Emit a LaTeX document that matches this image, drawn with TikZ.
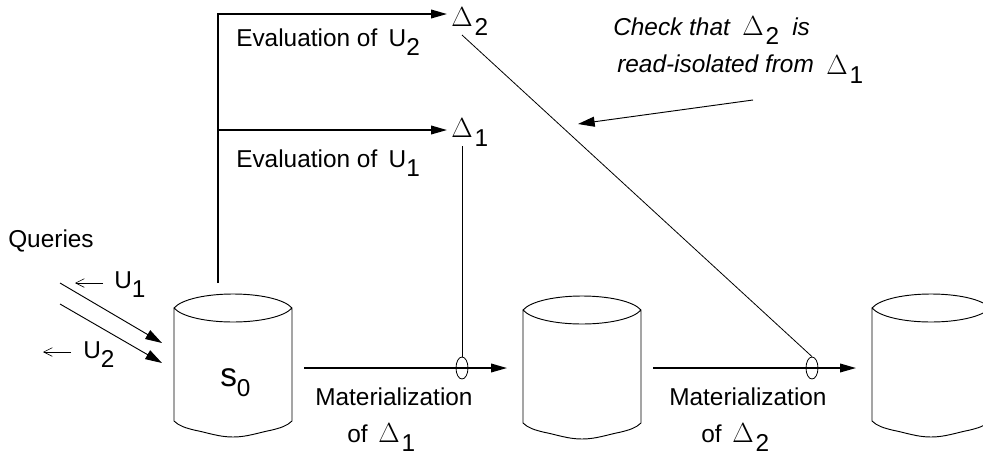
\documentclass[tikz,border=0pt]{standalone}
\usepackage{fontspec}
\setmainfont{Liberation Sans}
\usetikzlibrary{arrows.meta,shapes.geometric}
\newcommand{\dropsub}[1]{\raisebox{-6.9pt}{\fontsize{18.3}{20}\selectfont\upshape #1}}
\newcommand{\bigdelta}{{\fontsize{20.74}{22}\selectfont$\Delta$}\hspace{1.5pt}}
\tikzset{
  x=0.75pt,y=-0.75pt,
  label text/.style={inner sep=0pt,anchor=base west,font=\fontsize{18.3}{20}\selectfont},
  note text/.style={label text,font=\fontsize{18.3}{20}\selectfont\itshape},
  heavy/.style={line width=1.1pt,-{Triangle[length=12pt,width=6.5pt]}},
  thin link/.style={line width=0.6pt},
  thin arrow/.style={line width=0.7pt,-{Triangle[length=12.5pt,width=7.5pt]}},
  small arrow/.style={line width=0.45pt,-{Straight Barb[length=6.5pt,width=6.5pt]}},
  cyl/.style={line width=0.7pt,fill=white},
  pinch/.style={ellipse,draw,line width=0.6pt,inner sep=0pt,minimum width=9pt,minimum height=16.5pt}
}
\newcommand{\drum}[2]{%
  \draw[cyl] (#1,#2) -- (#1,#2+113)
    .. controls (#1+5,#2+118) and (#1+12,#2+120) .. (#1+20,#2+122)
    .. controls (#1+35,#2+125) and (#1+45,#2+129) .. (#1+59,#2+129)
    .. controls (#1+73,#2+129) and (#1+83,#2+125) .. (#1+98,#2+122)
    .. controls (#1+106,#2+120) and (#1+113,#2+118) .. (#1+118,#2+113)
    -- (#1+118,#2)
    .. controls (#1+110,#2-9) and (#1+85,#2-14) .. (#1+59,#2-14)
    .. controls (#1+33,#2-14) and (#1+8,#2-9) .. (#1,#2)
    .. controls (#1+8,#2+9) and (#1+33,#2+14) .. (#1+59,#2+14)
    .. controls (#1+85,#2+14) and (#1+110,#2+9) .. (#1+118,#2);}
\begin{document}
\begin{tikzpicture}
\useasboundingbox (0,0) rectangle (983,454);
\clip (0,0) rectangle (983,454);
\drum{174}{308}
\drum{523}{310}
\drum{872}{308}

% free ends
\coordinate (root) at (218,283);
\coordinate (corner) at (218,14);
\coordinate (branch) at (218,130);
\coordinate (d2end) at (447,14);
\coordinate (d1end) at (447,130);
\coordinate (d1from) at (462,146);
\coordinate (d2from) at (462,35);
\coordinate (m1a) at (304,368);
\coordinate (m1b) at (507,368);
\coordinate (m2a) at (653,368);
\coordinate (m2b) at (856,368);
\coordinate (q1a) at (60,283);
\coordinate (q1b) at (162,343);
\coordinate (q2a) at (60,304);
\coordinate (q2b) at (162,363);
\coordinate (u1a) at (103,283);
\coordinate (u1b) at (75,283);
\coordinate (u2a) at (71,352);
\coordinate (u2b) at (43,352);
\coordinate (cka) at (753,100);
\coordinate (ckb) at (578,124);

\draw[heavy] (root) -- (corner) -- (d2end);
\draw[heavy] (branch) -- (d1end);
\draw[heavy] (m1a) -- (m1b);
\draw[heavy] (m2a) -- (m2b);
\draw[thin arrow] (q1a) -- (q1b);
\draw[thin arrow] (q2a) -- (q2b);
\draw[thin arrow] (cka) -- (ckb);
\draw[small arrow] (u1a) -- (u1b);
\draw[small arrow] (u2a) -- (u2b);

\node[pinch] (p1) at (462,368) {};
\node[pinch] (p2) at (812,368) {};
\draw[thin link] (d1from) -- (p1.north);
\draw[thin link] (d2from) -- (p2.north);

\node[label text] (delta2) at (451,26) {\bigdelta\dropsub{2}};
\node[label text] (delta1) at (451,137) {\bigdelta\dropsub{1}};
\node[label text] (ev2) at (236,46) {Evaluation of\hspace{8.5pt}U\dropsub{2}};
\node[label text] (ev1) at (236,167) {Evaluation of\hspace{8.5pt}U\dropsub{1}};
\node[label text] (queries) at (8,247) {Queries};
\node[label text] (u1) at (114,288) {U\dropsub{1}};
\node[label text] (u2) at (83,358) {U\dropsub{2}};
\node[label text,font=\fontsize{25}{27}\selectfont] (s0) at (220,386) {s\raisebox{-7.5pt}{\fontsize{18.3}{20}\selectfont 0}};
\node[label text] (mat1) at (315,405) {Materialization};
\node[label text] (mat2) at (669,405) {Materialization};
\node[label text] (of1) at (347,442) {of};
\node[label text] (of2) at (701,442) {of};
\node[label text] (md1) at (378,442) {\bigdelta\dropsub{1}};
\node[label text] (md2) at (732,442) {\bigdelta\dropsub{2}};
\node[note text] (check) at (613,35) {Check that};
\node[label text] (ckd) at (742,35) {\bigdelta\dropsub{2}};
\node[note text] (is) at (792,35) {is};
\node[note text] (read) at (617,72) {read-isolated from};
\node[label text] (rd) at (826,74) {\bigdelta\dropsub{1}};
\end{tikzpicture}
\end{document}
